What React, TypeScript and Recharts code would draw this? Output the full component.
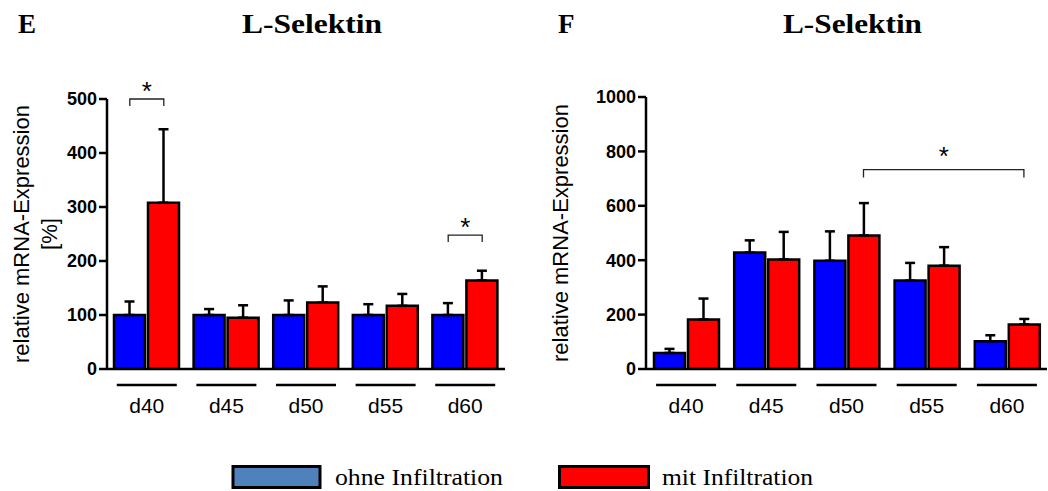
import React from 'react';
import { BarChart, Bar, XAxis, YAxis, ErrorBar, ReferenceLine, Label } from 'recharts';

// ---------- data ----------
const categories = ['d40', 'd45', 'd50', 'd55', 'd60'];

const eOhne = [100, 100, 100, 100, 100];
const eOhneErr = [25, 11, 27, 20, 22];
const eMit = [308, 95, 123, 117, 164];
const eMitErr = [136, 23, 30, 22, 18];

const fOhne = [59, 428, 398, 325, 102];
const fOhneErr = [15, 45, 108, 65, 22];
const fMit = [182, 403, 491, 380, 164];
const fMitErr = [77, 101, 119, 68, 20];

const eTicks = [0, 100, 200, 300, 400, 500];
const fTicks = [0, 200, 400, 600, 800, 1000];

const eBrackets = [
  { from: 'd40', fromSeries: 'ohne', to: 'd40', toSeries: 'mit', y: 500 },
  { from: 'd60', fromSeries: 'ohne', to: 'd60', toSeries: 'mit', y: 248 },
];
const fBrackets = [
  { from: 'd50', fromSeries: 'mit', to: 'd60', toSeries: 'mit', y: 733 },
];

const seriesNames = { ohne: 'ohne Infiltration', mit: 'mit Infiltration' };
const titles = { e: 'E', f: 'F', gene: 'L-Selektin' };
const yLabelE = ['relative mRNA-Expression', '[%]'];
const yLabelF = ['relative mRNA-Expression'];

// ---------- style ----------
const BLUE = '#0000FF';
const RED = '#FF0000';
const LEGEND_BLUE = '#4F81BD';
const SANS = '"Liberation Sans", Arial, Helvetica, sans-serif';
const SERIF = '"Liberation Serif", "Times New Roman", serif';
const BAR_SIZE = 31;
const BAR_GAP = 3;
const OFF = (BAR_SIZE + BAR_GAP) / 2;

const build = (ohne: number[], ohneErr: number[], mit: number[], mitErr: number[]) =>
  categories.map((c, i) => ({
    cat: c,
    ohne: ohne[i],
    ohneErr: [0, ohneErr[i]],
    mit: mit[i],
    mitErr: [0, mitErr[i]],
  }));

const dataE = build(eOhne, eOhneErr, eMit, eMitErr);
const dataF = build(fOhne, fOhneErr, fMit, fMitErr);

const XTick = (props: any) => {
  const { x, y, payload } = props;
  return (
    <g>
      <line x1={x - 30} x2={x + 30} y1={y + 16} y2={y + 16} stroke="#000" strokeWidth={2.5} />
      <text x={x} y={y + 44} textAnchor="middle" fontSize={21} fontFamily={SANS} fill="#000">
        {payload.value}
      </text>
    </g>
  );
};

const makeYLabel = (lines: string[], xs: number[]) => (props: any) => {
  const vb = props.viewBox || { x: 0, y: 0, width: 0, height: 0 };
  const cy = vb.y + vb.height / 2;
  return (
    <g>
      {lines.map((l, i) => (
        <text
          key={i}
          x={vb.x + xs[i]}
          y={cy}
          transform={`rotate(-90, ${vb.x + xs[i]}, ${cy})`}
          textAnchor="middle"
          dominantBaseline="central"
          fontSize={22}
          fontFamily={SANS}
          fill="#000"
        >
          {l}
        </text>
      ))}
    </g>
  );
};

const makeBracket = (b: any, drop: number, starGap: number) => (props: any) => {
  const { x1, y1, x2, y2 } = props;
  if (x1 == null) return <g />;
  const xa = x1 + (b.fromSeries === 'ohne' ? -OFF : OFF);
  const xb = x2 + (b.toSeries === 'ohne' ? -OFF : OFF);
  return (
    <g>
      <path
        d={`M${xa},${y1 + drop}L${xa},${y1}L${xb},${y2}L${xb},${y2 + drop}`}
        stroke="#222"
        strokeWidth={1.3}
        fill="none"
      />
      <text x={(xa + xb) / 2} y={y1 - starGap} textAnchor="middle" fontSize={26} fontFamily={SANS} fill="#000">
        *
      </text>
    </g>
  );
};

const Panel = ({ data, ticks, max, brackets, yLabel, labelXs, width, height, margin, yWidth, drop, starGap }: any) => (
  <BarChart width={width} height={height} data={data} margin={margin} barGap={BAR_GAP}>
    <XAxis
      dataKey="cat"
      height={50}
      tickLine={false}
      tickSize={0}
      tickMargin={0}
      axisLine={{ stroke: '#000', strokeWidth: 2.5 }}
      tick={<XTick />}
      interval={0}
    />
    <YAxis
      width={yWidth}
      domain={[0, max]}
      ticks={ticks}
      allowDataOverflow
      tickSize={8}
      tickMargin={2}
      axisLine={{ stroke: '#000', strokeWidth: 2.5 }}
      tickLine={{ stroke: '#000', strokeWidth: 2.5 }}
      tick={{ fontSize: 18, fontWeight: 'bold', fill: '#000', fontFamily: SANS }}
    >
      <Label content={makeYLabel(yLabel, labelXs)} />
    </YAxis>
    <Bar dataKey="ohne" name={seriesNames.ohne} fill={BLUE} stroke="#000" strokeWidth={2.5} barSize={BAR_SIZE} isAnimationActive={false}>
      <ErrorBar dataKey="ohneErr" width={5} stroke="#000" strokeWidth={2.5} direction="y" />
    </Bar>
    <Bar dataKey="mit" name={seriesNames.mit} fill={RED} stroke="#000" strokeWidth={2.5} barSize={BAR_SIZE} isAnimationActive={false}>
      <ErrorBar dataKey="mitErr" width={5} stroke="#000" strokeWidth={2.5} direction="y" />
    </Bar>
    {brackets.map((b: any, i: number) => (
      <ReferenceLine
        key={i}
        segment={[{ x: b.from, y: b.y }, { x: b.to, y: b.y }]}
        ifOverflow="visible"
        shape={makeBracket(b, drop, starGap)}
      />
    ))}
  </BarChart>
);

export default function App() {
  return (
    <div style={{ position: 'absolute', left: 0, top: 0, width: 1048, height: 491, background: '#fff', fontFamily: SANS }}>
      <svg width={1048} height={491} style={{ position: 'absolute', left: 0, top: 0 }}>
        <text x={18} y={33} fontFamily={SERIF} fontWeight="bold" fontSize={27} fill="#000">{titles.e}</text>
        <text x={242} y={33} fontFamily={SERIF} fontWeight="bold" fontSize={27} fill="#000" textLength={140} lengthAdjust="spacingAndGlyphs">{titles.gene}</text>
        <text x={558} y={33} fontFamily={SERIF} fontWeight="bold" fontSize={27} fill="#000">{titles.f}</text>
        <text x={783} y={33} fontFamily={SERIF} fontWeight="bold" fontSize={27} fill="#000" textLength={139} lengthAdjust="spacingAndGlyphs">{titles.gene}</text>
        <rect x={233} y={466.5} width={87} height={21} fill={LEGEND_BLUE} stroke="#000" strokeWidth={3} />
        <text x={335} y={485} fontFamily={SERIF} fontSize={23} fill="#000" textLength={168} lengthAdjust="spacingAndGlyphs">{seriesNames.ohne}</text>
        <rect x={559.5} y={466.5} width={89} height={21} fill={RED} stroke="#000" strokeWidth={3} />
        <text x={662} y={485} fontFamily={SERIF} fontSize={23} fill="#000" textLength={151} lengthAdjust="spacingAndGlyphs">{seriesNames.mit}</text>
      </svg>
      <div style={{ position: 'absolute', left: 0, top: 0 }}>
        <Panel
          data={dataE}
          ticks={eTicks}
          max={500}
          brackets={eBrackets}
          yLabel={yLabelE}
          labelXs={[21, 49]}
          width={530}
          height={430}
          margin={{ top: 99, right: 25, bottom: 11, left: 0 }}
          yWidth={107}
          drop={7}
          starGap={-1}
        />
      </div>
      <div style={{ position: 'absolute', left: 540, top: 0 }}>
        <Panel
          data={dataF}
          ticks={fTicks}
          max={1000}
          brackets={fBrackets}
          yLabel={yLabelF}
          labelXs={[20]}
          width={508}
          height={430}
          margin={{ top: 97, right: 1, bottom: 11, left: 0 }}
          yWidth={106}
          drop={8}
          starGap={5}
        />
      </div>
    </div>
  );
}
